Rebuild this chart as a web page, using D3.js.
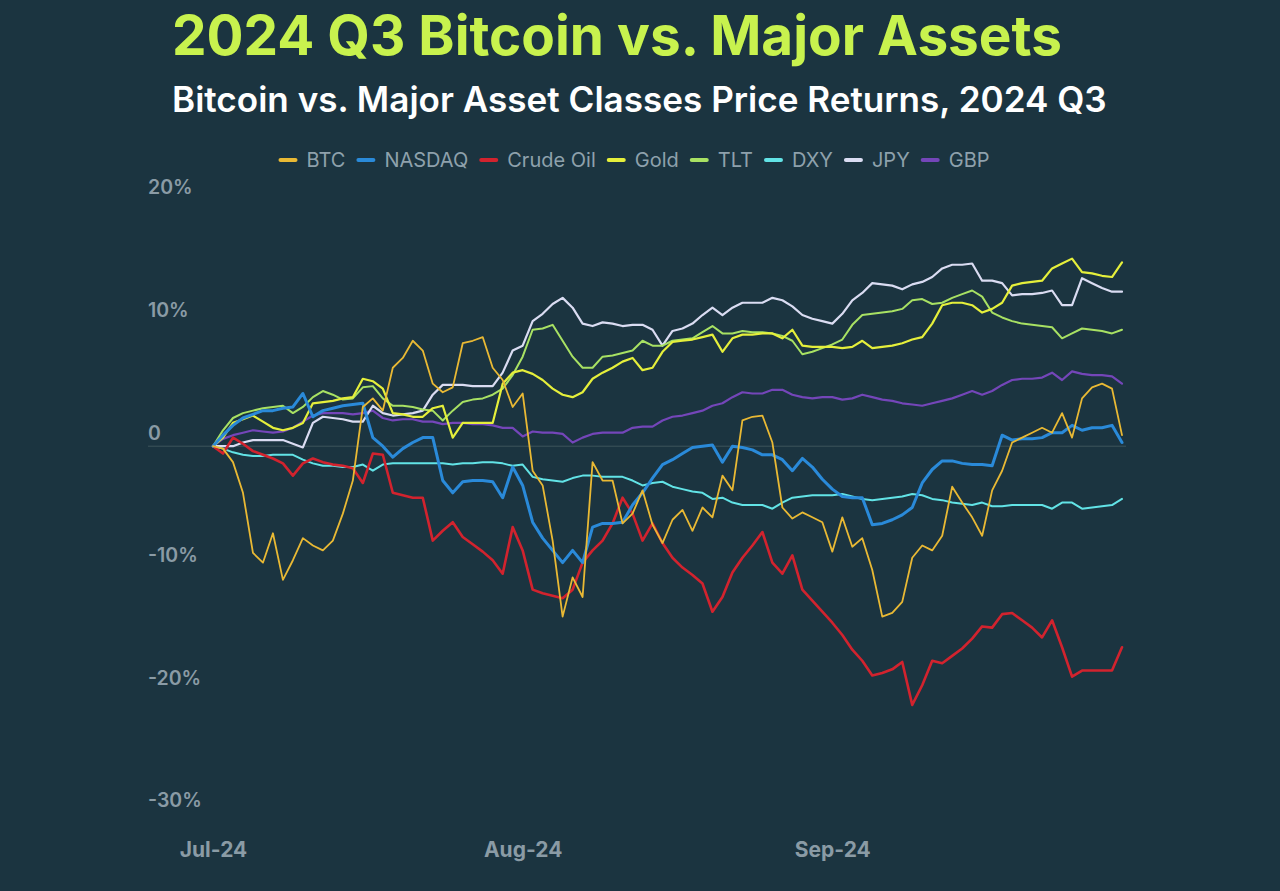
<!DOCTYPE html>
<html>
<head>
<meta charset="utf-8">
<script src="https://cdn.jsdelivr.net/npm/d3@7"></script>
<style>
  html, body { margin: 0; padding: 0; background: #1b3440; }
  svg { display: block; }
</style>
</head>
<body>
<svg id="chart" width="1280" height="891"></svg>
<script>
// ---------- DATA ----------
const titleText = "2024 Q3 Bitcoin vs. Major Assets";
const subtitleText = "Bitcoin vs. Major Asset Classes Price Returns, 2024 Q3";
const seriesNames = ["BTC", "NASDAQ", "Crude Oil", "Gold", "TLT", "DXY", "JPY", "GBP"];
const seriesColors = ["#e9b934", "#2a8ad9", "#d2232e", "#e5ef3b", "#a8e163", "#62e3e6", "#dadcf2", "#7446b9"];
const startDay = "2024-07-01";
const endDay = "2024-10-01";
const xTickDates = ["2024-07-01", "2024-08-01", "2024-09-01"];
const xTickLabels = ["Jul-24", "Aug-24", "Sep-24"];
const yTickValues = [20, 10, 0, -10, -20, -30];
const yTickLabels = ["20%", "10%", "0", "-10%", "-20%", "-30%"];

// daily % returns since Jul 1 (Jul 1 .. Sep 30)
const btc = [0,-0.2,-1.3,-3.8,-8.7,-9.5,-7.1,-10.9,-9.3,-7.5,-8.1,-8.5,-7.7,-5.5,-2.8,3.2,3.9,2.9,6.4,7.2,8.6,7.8,5.1,4.4,4.8,8.4,8.6,8.9,6.4,5.4,3.2,4.3,-2.0,-3.2,-7.7,-13.9,-10.7,-12.3,-1.3,-2.8,-2.8,-6.3,-5.5,-3.6,-6.4,-7.9,-6.0,-5.2,-6.9,-5.0,-5.8,-2.4,-3.6,2.1,2.4,2.5,0.3,-5.0,-5.9,-5.4,-5.8,-6.2,-8.6,-5.8,-8.2,-7.5,-10.1,-13.9,-13.6,-12.7,-9.1,-8.1,-8.5,-7.3,-3.3,-4.6,-5.8,-7.3,-3.6,-2.0,0.3,0.7,1.1,1.5,1.1,2.7,0.7,3.9,4.8,5.1,4.7,0.9];
const nasdaq = [0,0.9,1.7,2.3,2.6,2.9,2.9,3.1,3.2,4.3,2.4,2.9,3.1,3.3,3.4,3.5,0.7,0,-0.9,-0.2,0.3,0.7,0.7,-2.8,-3.8,-2.9,-2.8,-2.8,-2.9,-4.2,-1.7,-3.2,-6.2,-7.5,-8.5,-9.5,-8.5,-9.5,-6.6,-6.3,-6.3,-6.2,-4.8,-3.8,-2.6,-1.5,-1.1,-0.6,-0.1,0,0.1,-1.3,0,-0.1,-0.3,-0.7,-0.7,-1.1,-2.0,-1.0,-1.7,-2.7,-3.5,-4.1,-4.2,-4.2,-6.4,-6.3,-6.0,-5.6,-5.0,-3.0,-1.9,-1.2,-1.2,-1.4,-1.5,-1.5,-1.6,0.9,0.5,0.6,0.6,0.7,1.1,1.1,1.7,1.3,1.5,1.5,1.7,0.3];
const crudeOil = [0,-0.6,0.7,0.2,-0.4,-0.7,-1.0,-1.4,-2.4,-1.4,-1.0,-1.3,-1.5,-1.6,-1.8,-3.0,-0.6,-0.7,-3.8,-4.0,-4.2,-4.2,-7.7,-6.9,-6.2,-7.4,-8.0,-8.6,-9.3,-10.4,-6.6,-8.5,-11.7,-12.0,-12.2,-12.4,-11.7,-9.5,-8.5,-7.7,-6.3,-4.2,-5.5,-7.7,-6.3,-7.9,-9.1,-9.9,-10.5,-11.2,-13.5,-12.3,-10.3,-9.1,-8.1,-7.0,-9.5,-10.4,-8.9,-11.7,-12.6,-13.5,-14.4,-15.4,-16.6,-17.5,-18.7,-18.5,-18.2,-17.6,-21.1,-19.5,-17.5,-17.7,-17.1,-16.5,-15.7,-14.7,-14.8,-13.7,-13.6,-14.2,-14.8,-15.6,-14.2,-16.4,-18.8,-18.3,-18.3,-18.3,-18.3,-16.4];
const gold = [0,0.7,1.9,2.2,2.5,2.0,1.5,1.3,1.5,1.9,3.5,3.6,3.7,3.9,4.0,5.5,5.3,4.7,2.7,2.6,2.4,2.4,3.1,3.3,0.7,1.9,1.9,1.9,1.9,5.1,6.0,6.2,5.9,5.4,4.7,4.2,4.0,4.4,5.5,6.0,6.4,6.9,7.2,6.2,6.4,7.7,8.5,8.6,8.7,8.9,9.1,7.7,8.8,9.1,9.1,9.2,9.2,8.8,9.5,8.2,8.1,8.1,8.1,8.0,8.1,8.6,8.0,8.1,8.2,8.4,8.7,8.9,10.0,11.5,11.7,11.7,11.5,10.9,11.2,11.7,13.1,13.3,13.4,13.5,14.5,14.9,15.3,14.2,14.1,13.9,13.8,15.0];
const tlt = [0,1.3,2.3,2.7,2.9,3.1,3.2,3.3,2.7,3.2,4.0,4.5,4.2,3.8,3.9,4.8,4.9,3.9,3.3,3.3,3.2,3.0,2.9,2.1,2.9,3.6,3.8,3.9,4.2,4.7,5.8,7.3,9.5,9.6,9.9,8.6,7.3,6.4,6.4,7.3,7.4,7.6,7.8,8.6,8.2,8.2,8.6,8.7,8.8,9.3,9.8,9.2,9.2,9.4,9.3,9.3,9.2,9.0,8.6,7.5,7.7,8.0,8.3,8.7,9.9,10.7,10.8,10.9,11.0,11.2,11.9,12.0,11.6,11.7,12.1,12.4,12.7,12.2,10.9,10.5,10.2,10.0,9.9,9.8,9.7,8.8,9.2,9.6,9.5,9.4,9.2,9.5];
const dxy = [0,-0.2,-0.5,-0.7,-0.8,-0.8,-0.7,-0.7,-0.7,-1.1,-1.4,-1.6,-1.6,-1.7,-1.7,-1.5,-2.0,-1.5,-1.4,-1.4,-1.4,-1.4,-1.4,-1.4,-1.5,-1.4,-1.4,-1.3,-1.3,-1.4,-1.6,-1.5,-2.5,-2.7,-2.8,-2.9,-2.6,-2.4,-2.4,-2.5,-2.5,-2.5,-2.8,-3.2,-3.0,-2.9,-3.3,-3.5,-3.7,-3.8,-4.3,-4.2,-4.6,-4.8,-4.8,-4.8,-5.1,-4.6,-4.2,-4.1,-4.0,-4.0,-4.0,-3.9,-4.1,-4.3,-4.4,-4.3,-4.2,-4.1,-3.9,-4.0,-4.3,-4.4,-4.6,-4.7,-4.8,-4.6,-4.9,-4.9,-4.8,-4.8,-4.8,-4.8,-5.1,-4.6,-4.6,-5.1,-5.0,-4.9,-4.8,-4.3];
const jpy = [0,0,0,0.3,0.5,0.5,0.5,0.5,0.2,-0.1,1.9,2.4,2.3,2.2,2.0,2.0,3.3,2.7,2.5,2.6,2.7,2.9,4.2,5.0,5.0,5.0,4.9,4.9,4.9,6.0,7.8,8.2,10.2,10.8,11.6,12.1,11.3,10.0,9.8,10.1,10.0,9.8,9.9,9.9,9.5,8.2,9.4,9.6,10.0,10.7,11.3,10.7,11.3,11.7,11.7,11.7,12.1,11.9,11.4,10.7,10.4,10.2,10.0,10.8,11.9,12.5,13.3,13.2,13.1,12.8,13.2,13.4,13.8,14.5,14.8,14.8,14.9,13.5,13.5,13.3,12.3,12.4,12.4,12.5,12.7,11.5,11.5,13.7,13.3,12.9,12.6,12.6];
const gbp = [0,0.6,0.9,1.1,1.3,1.2,1.1,1.2,1.5,2.0,2.5,2.7,2.7,2.7,2.6,2.7,2.9,2.3,2.1,2.2,2.2,2.0,2.0,1.8,1.9,1.9,1.8,1.8,1.7,1.5,1.5,0.8,1.2,1.1,1.1,1.0,0.3,0.7,1.0,1.1,1.1,1.1,1.5,1.6,1.6,2.1,2.4,2.5,2.7,2.9,3.3,3.5,4.0,4.4,4.3,4.3,4.6,4.6,4.2,4.0,3.9,4.0,4.0,3.8,3.9,4.2,4.0,3.8,3.7,3.5,3.4,3.3,3.5,3.7,3.9,4.2,4.5,4.2,4.5,5.0,5.4,5.5,5.5,5.6,6.0,5.4,6.1,5.9,5.8,5.8,5.7,5.1];
const seriesValues = [btc, nasdaq, crudeOil, gold, tlt, dxy, jpy, gbp];

// ---------- LAYOUT ----------
const W = 1280, H = 891;
const plot = { left: 213, right: 1122, top: 201, bottom: 814 };
const svg = d3.select("#chart");
svg.append("rect").attr("width", W).attr("height", H).attr("fill", "#1b3440");

const parse = d3.utcParse("%Y-%m-%d");
const dates = d3.utcDay.range(parse(startDay), parse(endDay));

const x = d3.scaleUtc().domain([dates[0], dates[dates.length - 1]]).range([plot.left, plot.right]);
const y = d3.scaleLinear().domain([-30, 20]).range([plot.bottom, plot.top]);

// Title
function fitText(sel, targetW) {
  const w = sel.node().getComputedTextLength();
  const fs = parseFloat(sel.attr("font-size"));
  sel.attr("font-size", fs * targetW / w);
}
const title = svg.append("text")
  .attr("x", 172).attr("y", 55)
  .attr("font-family", "Inter, 'Open Sans', sans-serif")
  .attr("font-weight", 700).attr("font-size", 50)
  .attr("fill", "#c8f24e")
  .text(titleText);
fitText(title, 890);

const subtitle = svg.append("text")
  .attr("x", 172).attr("y", 112)
  .attr("font-family", "Inter, 'Open Sans', sans-serif")
  .attr("font-weight", 600).attr("font-size", 31)
  .attr("fill", "#ffffff")
  .text(subtitleText);
fitText(subtitle, 935);

// Legend
const legend = svg.append("g");
let lx = 0;
seriesNames.forEach((name, i) => {
  const g = legend.append("g").attr("transform", `translate(${lx},0)`);
  g.append("line").attr("x1", 2).attr("x2", 17).attr("y1", 0).attr("y2", 0)
    .attr("stroke", seriesColors[i]).attr("stroke-width", 4).attr("stroke-linecap", "round");
  const t = g.append("text").attr("x", 28).attr("y", 0).attr("dy", "0.35em")
    .attr("font-family", "Inter, 'Open Sans', sans-serif").attr("font-size", 20)
    .attr("fill", "#8ea1ac").text(name);
  lx += 28 + t.node().getComputedTextLength() + 11;
});
lx -= 11;
legend.attr("transform", `translate(${634 - lx / 2},160)`);

// Zero line
svg.append("line")
  .attr("x1", 148).attr("x2", 1126)
  .attr("y1", y(0)).attr("y2", y(0))
  .attr("stroke", "#3d545b").attr("stroke-width", 1);

// Y axis labels
const yAxis = d3.axisRight(y).tickValues(yTickValues)
  .tickFormat((d, i) => yTickLabels[i]).tickSize(0).tickPadding(0);
const gy = svg.append("g").attr("transform", "translate(148,0)").call(yAxis);
gy.select(".domain").remove();
gy.selectAll("text")
  .attr("dy", "-0.36em")
  .attr("font-family", "Inter, 'Open Sans', sans-serif")
  .attr("font-size", 19.5).attr("font-weight", 600)
  .attr("fill", "#8a9ba5").attr("text-anchor", "start");

// X axis labels
const xAxis = d3.axisBottom(x).tickValues(xTickDates.map(parse))
  .tickFormat((d, i) => xTickLabels[i]).tickSize(0).tickPadding(10);
const gx = svg.append("g").attr("transform", "translate(0,832)").call(xAxis);
gx.select(".domain").remove();
gx.selectAll("text")
  .attr("font-family", "Inter, 'Open Sans', sans-serif")
  .attr("font-size", 21).attr("font-weight", 700)
  .attr("fill", "#8a9ba5");

// Lines
const line = d3.line().x((d, i) => x(dates[i])).y(d => y(d));
const widths = [1.8, 3, 2.6, 2.2, 2, 2, 2.2, 2.2];
const drawOrder = [7, 5, 6, 4, 3, 2, 1, 0];
drawOrder.forEach(k => {
  svg.append("path")
    .datum(seriesValues[k])
    .attr("d", line)
    .attr("fill", "none")
    .attr("stroke", seriesColors[k])
    .attr("stroke-width", widths[k])
    .attr("stroke-linejoin", "round")
    .attr("stroke-linecap", "round");
});
</script>
</body>
</html>
